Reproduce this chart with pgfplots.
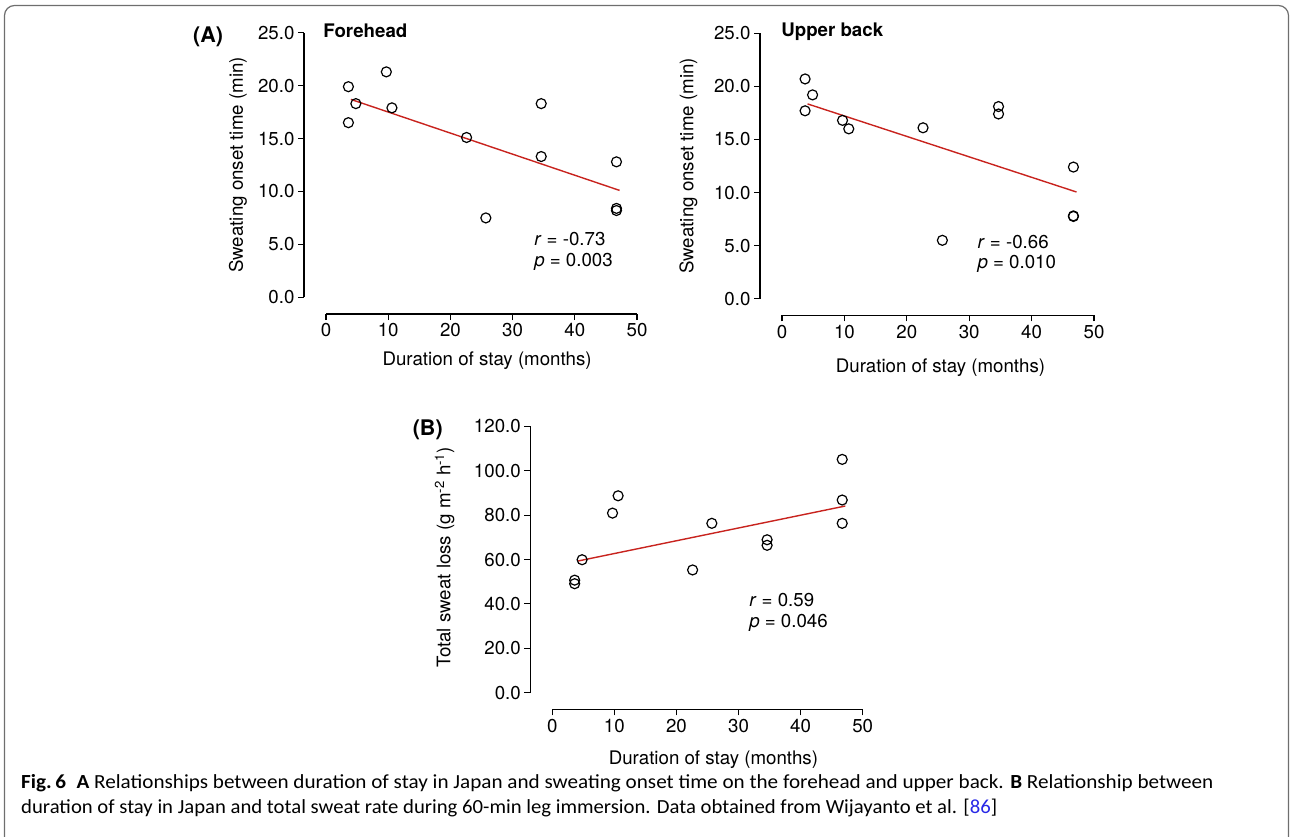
\documentclass[border=0pt]{standalone}
\usepackage{pgfplots}
\pgfplotsset{compat=1.18}
\usepackage{fontspec}
\setmainfont{TeX Gyre Heros}
\newfontfamily\capfont{Carlito}
\definecolor{fitred}{RGB}{200,35,30}
\definecolor{framegray}{RGB}{110,110,110}
\definecolor{reflink}{RGB}{40,40,230}

\pgfplotsset{
  rstyle/.style={
    scale only axis,
    axis lines*=left,
    axis x line shift=16.7pt,
    axis y line shift=22pt,
    axis line style={black, line width=1.1pt},
    tick style={black, line width=1.1pt},
    tick align=outside,
    major tick length=6pt,
    xmin=0, xmax=50,
    xtick={0,10,20,30,40,50},
    clip=false,
    font=\fontsize{18.7}{22}\selectfont,
    tick label style={font=\fontsize{18.7}{22}\selectfont},
    label style={font=\fontsize{18.7}{22}\selectfont},
    /pgf/number format/assume math mode=true,
    yticklabel style={/pgf/number format/.cd, fixed, fixed zerofill, precision=1},
    xticklabel style={/pgf/number format/.cd, fixed, precision=0},
  },
  pts/.style={only marks, mark=o, mark size=5pt, mark options={line width=1.2pt, black}},
  fit/.style={no marks, fitred, line width=1.4pt},
}
\tikzset{txt/.style={anchor=base west, inner sep=0pt, font=\fontsize{18.7}{22}\selectfont}}

\begin{document}
\begin{tikzpicture}
\path[use as bounding box] (0pt,0pt) rectangle (1290pt,-836pt);
\begin{scope}
\clip (0pt,0pt) rectangle (1290pt,-836pt);
\draw[framegray, line width=1.2pt, rounded corners=10pt] (4.5pt,-5.5pt) rectangle (1288.5pt,-860pt);
\end{scope}

% ---------- A: Forehead ----------
\begin{axis}[rstyle,
  at={(326pt,-297.3pt)}, anchor=south west,
  width=311pt, height=264.6pt,
  ymin=0, ymax=25, ytick={0,5,10,15,20,25},
  xlabel={Duration of stay (months)},
  xlabel style={at={(axis description cs:0.518,-0.241)}, anchor=center},
  ylabel={Sweating onset time (min)},
  ylabel style={at={(axis description cs:-0.283,0.5)}, anchor=center},
]
\addplot[pts] coordinates {
(3.6,19.9) (3.6,16.5) (4.8,18.3) (9.7,21.3) (10.6,17.9) (22.6,15.1)
(25.7,7.5) (34.6,18.3) (34.6,13.3) (46.7,12.8) (46.7,8.2) (46.7,8.4)};
\addplot[fit] coordinates {(4.0,18.7) (47.2,10.1)};
\node[txt, font=\fontsize{21.5}{24}\bfseries\selectfont] at (axis description cs:-0.428,0.962) {(A)};
\node[txt, font=\fontsize{18.7}{22}\bfseries\selectfont] at (axis description cs:-0.009,0.983) {Forehead};
\node[txt] at (axis description cs:0.669,0.194) {\textit{r} = -0.73};
\node[txt] at (axis description cs:0.669,0.116) {\textit{p} = 0.003};
\end{axis}

% ---------- A: Upper back ----------
\begin{axis}[rstyle,
  at={(782pt,-298.7pt)}, anchor=south west,
  width=312pt, height=265.4pt,
  ymin=0, ymax=25, ytick={0,5,10,15,20,25},
  xlabel={Duration of stay (months)},
  xlabel style={at={(axis description cs:0.508,-0.261)}, anchor=center},
  ylabel={Sweating onset time (min)},
  ylabel style={at={(axis description cs:-0.30,0.5)}, anchor=center},
]
\addplot[pts] coordinates {
(3.7,20.7) (3.7,17.7) (4.9,19.2) (9.7,16.8) (10.7,16.0) (22.6,16.1)
(25.7,5.5) (34.7,18.1) (34.7,17.4) (46.7,12.4) (46.7,7.8) (46.7,7.75)};
\addplot[fit] coordinates {(4.1,18.35) (47.2,10.05)};
\node[txt, font=\fontsize{18.7}{22}\bfseries\selectfont] at (axis description cs:-0.003,0.987) {Upper back};
\node[txt] at (axis description cs:0.626,0.191) {\textit{r} = -0.66};
\node[txt] at (axis description cs:0.626,0.112) {\textit{p} = 0.010};
\end{axis}

% ---------- B ----------
\begin{axis}[rstyle,
  at={(552.3pt,-692.7pt)}, anchor=south west,
  width=310.4pt, height=266.4pt,
  ymin=0, ymax=120, ytick={0,20,40,60,80,100,120},
  xlabel={Duration of stay (months)},
  xlabel style={at={(axis description cs:0.519,-0.25)}, anchor=center},
  ylabel={Total sweat loss (g m\textsuperscript{-2} h\textsuperscript{-1})},
  ylabel style={at={(axis description cs:-0.347,0.508)}, anchor=center},
]
\addplot[pts] coordinates {
(3.6,50.7) (3.6,49.1) (4.8,59.9) (9.7,80.9) (10.6,88.7) (22.6,55.3)
(25.7,76.3) (34.6,68.9) (34.6,66.4) (46.7,105.1) (46.7,86.8) (46.7,76.3)};
\addplot[fit] coordinates {(4.1,59.3) (47.2,84.1)};
\node[txt, font=\fontsize{21.5}{24}\bfseries\selectfont] at (axis description cs:-0.45,0.967) {(B)};
\node[txt] at (axis description cs:0.634,0.325) {\textit{r} = 0.59};
\node[txt] at (axis description cs:0.634,0.244) {\textit{p} = 0.046};
\end{axis}

% ---------- caption ----------
\node[anchor=base west, inner sep=0pt] at (21pt,-788.3pt) {\resizebox{1192pt}{\height}{\capfont\fontsize{20}{24}\selectfont\textbf{Fig.\,6}\enspace\textbf{A} Relationships between duration of stay in Japan and sweating onset time on the forehead and upper back. \textbf{B} Relationship between}};
\node[anchor=base west, inner sep=0pt] at (21pt,-813.3pt) {\resizebox{976pt}{\height}{\capfont\fontsize{20}{24}\selectfont duration of stay in Japan and total sweat rate during 60-min leg immersion. Data obtained from Wijayanto et al. [\textcolor{reflink}{86}]}};
\end{tikzpicture}
\end{document}
